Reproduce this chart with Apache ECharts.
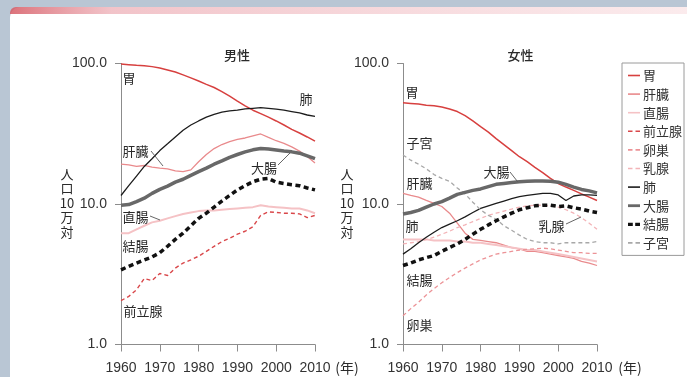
<!DOCTYPE html>
<html><head><meta charset="utf-8">
<script src="https://cdn.jsdelivr.net/npm/echarts@6/dist/echarts.min.js"></script>
<style>html,body{margin:0;padding:0;background:#fff}#c{width:687px;height:377px}</style>
</head><body><div id="c"></div>
<script>
// ---- data ----
const years = [1960,1962,1964,1966,1968,1970,1972,1974,1976,1978,1980,1982,1984,1986,1988,1990,1992,1994,1996,1998,2000,2002,2004,2006,2008,2010];
const xTicks = [1960,1970,1980,1990,2000,2010];
const yTicks = [1,10,100];
// male
const mStomach  = [99,98,97,96.5,95,93,90,87,83,79,75,71,67.5,63,58.5,54,50,46.5,44,41.5,39,36.5,34,32,30,28];
const mLiver    = [19.2,19.0,18.5,18.8,18.3,18.0,17.8,17.2,17.0,17.5,20,22.5,24.8,26.5,27.8,28.8,29.5,30.5,31.5,29.8,28.2,27.0,25.5,23.8,21.8,19.6];
const mRectum   = [6.2,6.2,6.6,7.0,7.4,7.6,7.9,8.2,8.5,8.7,8.9,9.0,9.0,9.1,9.2,9.3,9.4,9.5,9.8,9.6,9.5,9.4,9.3,9.3,9.0,8.6];
const mProstate = [2.05,2.2,2.45,2.95,2.85,3.2,3.1,3.5,3.8,4.0,4.25,4.6,5.0,5.4,5.7,6.1,6.4,6.9,8.3,8.8,8.7,8.6,8.6,8.5,8.0,8.3];
const mLung     = [11.5,13.5,15.8,18.5,21,24,26.8,30,33.5,36.5,39,41.5,43.5,45,46,46.5,47.5,48,48.5,48,47.3,46.5,45.5,44.5,43,42];
const mLargeInt = [9.8,9.9,10.4,11.0,11.9,12.7,13.4,14.3,15.0,16.0,17.0,18.0,19.2,20.3,21.5,22.5,23.5,24.3,24.8,24.6,24.2,23.8,23.5,23.0,22.0,21.0];
const mColon    = [3.4,3.6,3.8,4.0,4.2,4.5,5.0,5.6,6.2,7.0,7.9,8.6,9.5,10.5,11.5,12.6,13.5,14.4,15.0,15.2,14.3,14.0,13.7,13.5,13.0,12.6];
// female
const fStomach  = [52.5,52,51.5,50.5,50,49,47.5,45.5,42.5,39,35.5,32.5,29.2,26.5,24,21.7,20,18.2,16.7,15.2,14,13.2,12.5,11.8,11.2,10.6];
const fLiver    = [11.9,11.5,11.2,10.6,10.1,9.6,8.6,7.3,6.2,5.6,5.5,5.4,5.3,5.1,4.9,4.8,4.6,4.6,4.5,4.4,4.3,4.2,4.1,3.9,3.8,3.65];
const fRectum   = [5.6,5.6,5.6,5.6,5.5,5.5,5.5,5.4,5.4,5.3,5.3,5.2,5.1,5.0,4.9,4.8,4.7,4.7,4.6,4.5,4.4,4.3,4.2,4.1,4.0,3.9];
const fOvary    = [1.6,1.8,2.0,2.25,2.5,2.75,3.0,3.25,3.5,3.75,4.0,4.2,4.4,4.5,4.6,4.7,4.75,4.8,4.85,4.8,4.7,4.6,4.5,4.5,4.45,4.45];
const fBreast   = [5.2,5.3,5.4,5.6,5.8,6.1,6.4,6.8,7.1,7.5,7.9,8.3,8.6,8.9,9.2,9.5,9.7,9.8,9.8,9.7,9.5,9.1,8.6,8.0,7.3,6.6];
const fLung     = [4.4,4.8,5.3,5.8,6.3,6.8,7.2,7.6,8.1,8.7,9.3,9.7,10.1,10.5,10.9,11.3,11.5,11.7,11.9,11.9,11.6,10.6,11.4,11.6,11.6,11.5];
const fLargeInt = [8.5,8.7,9.0,9.5,10.0,10.4,11.0,11.7,12.1,12.5,12.8,13.3,13.8,14.0,14.2,14.4,14.5,14.6,14.6,14.5,14.3,13.8,13.2,12.7,12.4,12.0];
const fColon    = [3.65,3.8,4.0,4.15,4.3,4.6,4.9,5.2,5.6,6.1,6.6,7.1,7.6,8.1,8.6,9.1,9.4,9.7,9.8,9.8,9.6,9.7,9.4,9.2,8.9,8.7];
const fUterus   = [22.3,20.5,19.2,17.8,16.2,15.2,14.5,13.0,11.8,10.3,9.1,8.3,7.8,7.0,6.5,6.0,5.6,5.4,5.3,5.3,5.2,5.3,5.3,5.3,5.3,5.4];

const legendNames = ['胃','肝臓','直腸','前立腺','卵巣','乳腺','肺','大腸','結腸','子宮'];

// ---- styles ----
const ST = {
  '胃':   {color:'#d7403f', width:1.5, type:'solid'},
  '肝臓': {color:'#e98a8c', width:1.3, type:'solid'},
  '直腸': {color:'#f5c2c5', width:2,   type:'solid'},
  '前立腺':{color:'#d9474a', width:1.4, type:[4,3]},
  '卵巣': {color:'#ec9397', width:1.3, type:[4,3]},
  '乳腺': {color:'#f3b3b7', width:1.3, type:[4,3]},
  '肺':   {color:'#1c1c1c', width:1.3, type:'solid'},
  '大腸': {color:'#686868', width:3.5, type:'solid'},
  '結腸': {color:'#111111', width:3.5, type:[5,3.5]},
  '子宮': {color:'#a8a8a8', width:1.3, type:[4,3]}
};
const ICON_SOLID = 'path://M0,0H12V1.6H0Z';
const ICON_THICK = 'path://M0,0H12V2.8H0Z';
const ICON_DASH  = 'path://M0,0H4.5V1.6H0ZM7.5,0H12V1.6H7.5Z';
const ICON_TDASH = 'path://M0,0H4.8V3.2H0ZM7.2,0H12V3.2H7.2Z';
const legendIcons = {'胃':ICON_SOLID,'肝臓':ICON_SOLID,'直腸':ICON_SOLID,'前立腺':ICON_DASH,'卵巣':ICON_DASH,
  '乳腺':ICON_DASH,'肺':ICON_SOLID,'大腸':ICON_THICK,'結腸':ICON_TDASH,'子宮':ICON_DASH};

const CJK = '"Noto Sans CJK JP", sans-serif';
const LAT = '"Liberation Sans", Arial, sans-serif';

function mk(name, arr, gi) {
  const s = ST[name];
  return {
    name, type:'line', xAxisIndex:gi, yAxisIndex:gi, symbol:'none', silent:true,
    color:s.color, itemStyle:{color:s.color},
    lineStyle:{color:s.color, width:s.width, type:s.type},
    data: years.map((y,i)=>[y, arr[i]]), z: name==='大腸'||name==='結腸' ? 3 : 2
  };
}
const series = [
  mk('胃', mStomach, 0), mk('肝臓', mLiver, 0), mk('直腸', mRectum, 0), mk('前立腺', mProstate, 0),
  mk('肺', mLung, 0), mk('大腸', mLargeInt, 0), mk('結腸', mColon, 0),
  mk('胃', fStomach, 1), mk('肝臓', fLiver, 1), mk('直腸', fRectum, 1), mk('卵巣', fOvary, 1),
  mk('乳腺', fBreast, 1), mk('肺', fLung, 1), mk('大腸', fLargeInt, 1), mk('結腸', fColon, 1), mk('子宮', fUterus, 1)
];

const axisLineC = '#8c8c8c';
function xAx(gi){ return {gridIndex:gi, type:'value', min:xTicks[0], max:xTicks[xTicks.length-1], interval:10,
  axisLine:{lineStyle:{color:axisLineC}}, axisTick:{length:7, lineStyle:{color:axisLineC}},
  splitLine:{show:false},
  axisLabel:{margin:17, fontSize:14, color:'#333', fontFamily:LAT, formatter:v=>String(v)}}; }
function yAx(gi){ return {gridIndex:gi, type:'log', logBase:10, min:yTicks[0], max:yTicks[yTicks.length-1],
  axisLine:{show:true, lineStyle:{color:axisLineC}}, axisTick:{show:true, length:6, lineStyle:{color:axisLineC}},
  splitLine:{show:false}, minorTick:{show:false},
  axisLabel:{margin:14, fontSize:14, color:'#333', fontFamily:LAT, formatter:v=>Number(v).toFixed(1)}}; }

function txt(x,y,t,size,font,weight){ return {type:'text', x, y, z:100, silent:true,
  style:{text:t, fontSize:size||13, fontFamily:font||CJK, fontWeight:weight||'normal', fill:'#2a2a2a', align:'center', verticalAlign:'middle', lineHeight:14.5}}; }
function ln(x1,y1,x2,y2){ return {type:'line', z:100, silent:true, shape:{x1,y1,x2,y2}, style:{stroke:'#555', lineWidth:0.9}}; }

const graphics = [
  {type:'rect', z:-100, silent:true, shape:{x:0,y:0,width:687,height:377}, style:{fill:'#b9c6d4'}},
  {type:'rect', z:-99, silent:true, shape:{x:10,y:7,width:677,height:370, r:[10,0,0,0]}, style:{fill:'#ffffff'}},
  {type:'rect', z:-98, silent:true, shape:{x:10,y:7,width:677,height:7, r:[6,0,0,0]},
    style:{fill:{type:'linear', x:0,y:0,x2:1,y2:0, colorStops:[{offset:0,color:'rgba(214,90,100,0.85)'},{offset:0.15,color:'rgba(236,170,178,0.7)'},{offset:1,color:'rgba(246,210,214,0.45)'}]}}},
  // panel titles
  txt(237,55.5,'男性',13,CJK,'500'), txt(520.5,55.5,'女性',13,CJK,'500'),
  // y axis names
  txt(67,203,'人\n口\n10\n万\n対',13), txt(347,203,'人\n口\n10\n万\n対',13),
  // year unit
  txt(347,368,'(年)',14), txt(630,368,'(年)',14),
  // male annotations
  txt(129,78,'胃'), txt(306,99,'肺'), txt(135.5,151,'肝臓'), txt(264,168,'大腸'),
  txt(135.5,217,'直腸'), txt(135.5,246,'結腸'), txt(143,311,'前立腺'),
  ln(151,151,163,166), ln(278,165,290,153), ln(150,216,160,220),
  // female annotations
  txt(412,92,'胃'), txt(419.5,143.5,'子宮'), txt(419.5,183.5,'肝臓'), txt(496.5,172.5,'大腸'),
  txt(412,226.5,'肺'), txt(419.5,280,'結腸'), txt(419.5,325,'卵巣'), txt(551.5,226,'乳腺'),
  ln(510,172,517.5,181.5), ln(566,224,581,217)
];

const chart = echarts.init(document.getElementById('c'), null, {renderer:'canvas'});
chart.setOption({
  animation:false,
  backgroundColor:'transparent',
  grid:[{left:121, top:63.5, width:194, height:281, containLabel:false},
        {left:403, top:63.5, width:194, height:281, containLabel:false}],
  xAxis:[xAx(0), xAx(1)],
  yAxis:[yAx(0), yAx(1)],
  legend:{data:legendNames.map(n=>({name:n, icon:legendIcons[n], itemStyle:{color:ST[n].color}})),
    orient:'vertical', left:622, top:63, itemWidth:12, itemHeight:12, itemGap:5.6, symbolKeepAspect:true,
    padding:[6,2,6,6], borderColor:'#9a9a9a', borderWidth:1, backgroundColor:'#fff', selectedMode:false,
    textStyle:{fontSize:13, fontFamily:CJK, color:'#333', padding:[0,0,0,-2]}},
  graphic:graphics,
  series
});
</script></body></html>
